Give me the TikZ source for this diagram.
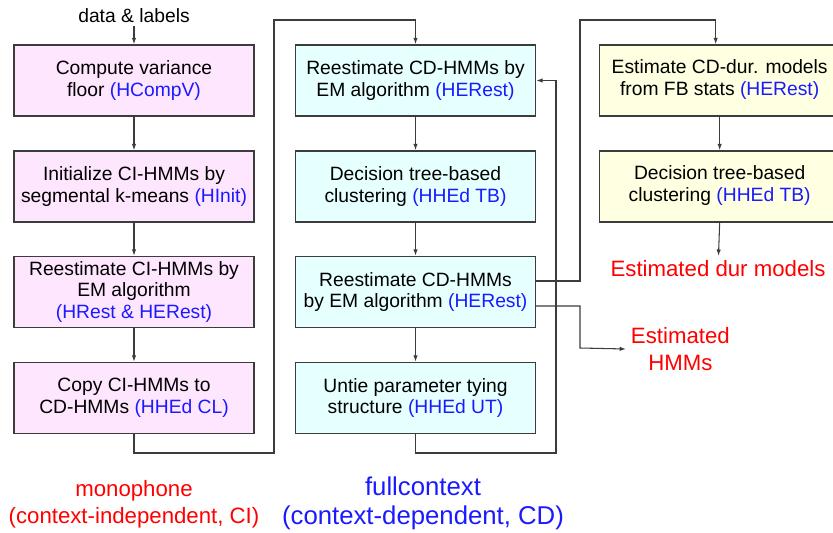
\documentclass[tikz,border=0pt]{standalone}
\usepackage{fontspec}
\setmainfont{Liberation Sans}
\usetikzlibrary{calc,arrows.meta}

\definecolor{cifill}{HTML}{FFE6FF}
\definecolor{cdfill}{HTML}{E6FFFF}
\definecolor{durfill}{HTML}{FFFFE1}
\definecolor{toolblue}{HTML}{1A1AFF}
\definecolor{outred}{HTML}{FF0000}
\definecolor{linegray}{HTML}{3C3C3C}
\newcommand{\tool}[1]{\textcolor{toolblue}{#1}}
% text of the cut-off boxes, padded on the right
\newcommand{\cutcell}[1]{\begin{tabular}{@{}c@{}}#1\end{tabular}\hspace*{0.5cm}}

\begin{document}
\begin{tikzpicture}[x=0.025cm,y=-0.025cm,
    stage/.style={draw=linegray,line width=0.9pt,minimum width=6cm,minimum height=1.78cm,
      align=center,font=\fontsize{13.7}{15.6}\selectfont},
    ci/.style={stage,fill=cifill},
    cd/.style={stage,fill=cdfill},
    dur/.style={stage,fill=durfill,minimum width=6.5cm,anchor=west},
    result/.style={align=center,font=\fontsize{15.8}{19}\selectfont},
    flow/.style={draw=linegray,line width=0.75pt},
    >={Latex[length=1.6mm,width=1.1mm]}]
    \useasboundingbox (0,0) rectangle (833,532);
    \clip (0,0) rectangle (833,532);
    % monophone column
    \node[inner sep=2pt,font=\fontsize{13.7}{15.6}\selectfont] (data) at (134,16) {data \& labels};
    \node[ci] (compv) at (134,80.5) {Compute variance\\floor \tool{(HCompV)}};
    \node[ci] (init) at (134,186.5) {Initialize CI-HMMs by\\segmental k-means \tool{(HInit)}};
    \node[ci] (rest) at (134,292) {Reestimate CI-HMMs by\\EM algorithm\\\tool{(HRest \& HERest)}};
    \node[ci] (copy) at (134,398) {Copy CI-HMMs to\\CD-HMMs \tool{(HHEd CL)}};
    % fullcontext column
    \node[cd] (emA) at (415.5,80.5) {Reestimate CD-HMMs by\\EM algorithm \tool{(HERest)}};
    \node[cd] (tbA) at (415.5,186.5) {Decision tree-based\\clustering \tool{(HHEd TB)}};
    \node[cd] (emB) at (415.5,292) {Reestimate CD-HMMs\\by EM algorithm \tool{(HERest)}};
    \node[cd] (untie) at (415.5,398) {Untie parameter tying\\structure \tool{(HHEd UT)}};
    % duration column, cut off at the right edge
    \node[dur] (fbdur) at (599,80.5) {\cutcell{Estimate CD-dur. models\\from FB stats \tool{(HERest)}}};
    \node[dur] (tbdur) at (599,186.5) {\cutcell{Decision tree-based\\clustering \tool{(HHEd TB)}}};
    % outputs
    \node[result,text=outred] (durout) at (718,269) {Estimated dur models};
    \node[result,text=outred,anchor=west] (hmmout) at (626,349) {Estimated\\HMMs};
    \node[result,text=outred] (mono) at (134,504) {monophone\\(context-independent, CI)};
    \node[result,text=toolblue,font=\fontsize{18.3}{20.5}\selectfont] (full) at (423,503) {fullcontext\\(context-dependent, CD)};
    % bends
    \coordinate (cA) at (274,453);
    \coordinate (cB) at (274,20);
    \coordinate (fb) at (556,453);
    \coordinate (dA) at (580,20);
    \coordinate (hA) at (580,348);

    \draw[flow,->] (data) -- (compv);
    \draw[flow,->] (compv) -- (init);
    \draw[flow,->] (init) -- (rest);
    \draw[flow,->] (rest) -- (copy);
    \draw[flow,->] (copy.south) |- (cA) -- (cB) -| (emA.north);
    \draw[flow,->] (emA) -- (tbA);
    \draw[flow,->] (tbA) -- (emB);
    \draw[flow,->] (emB) -- (untie);
    \draw[flow,->] (untie.south) |- (fb) |- (emA.east);
    \draw[flow,->] ($(emB.east)+(0,-11)$) -| (dA) -| ([xshift=-0.35cm]fbdur.north);
    \draw[flow,->] ($(emB.east)+(0,14)$) -| (hA) -- (hmmout.west);
    \draw[flow,->] ([xshift=-0.25cm]fbdur.south) -- ([xshift=-0.25cm]tbdur.north);
    \draw[flow,->] ([xshift=-0.25cm]tbdur.south) -- (durout);
    %\draw[flow,dashed] (copy) -- (emA);
\end{tikzpicture}
\end{document}
